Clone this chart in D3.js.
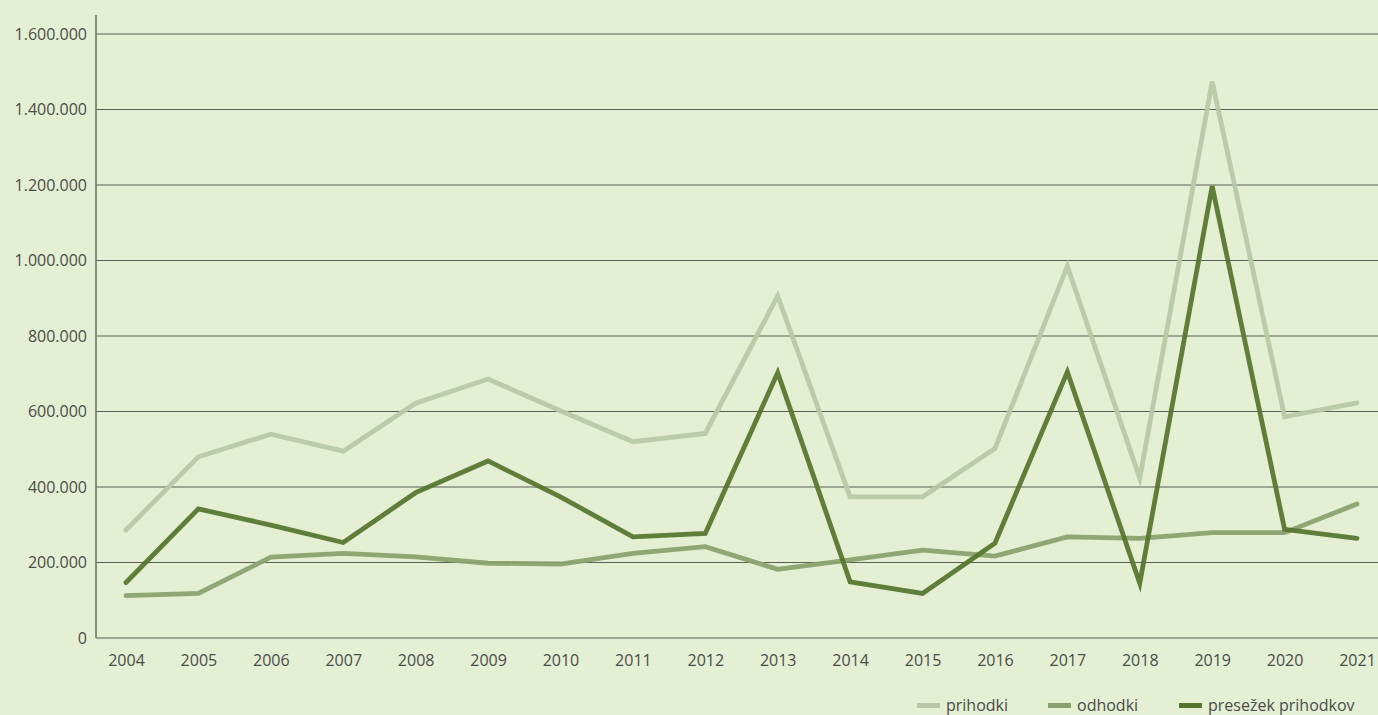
<!DOCTYPE html>
<html>
<head>
<meta charset="utf-8">
<script src="https://cdn.jsdelivr.net/npm/d3@7"></script>
<style>
  body { margin: 0; background: #e4efd4; }
  svg { display: block; font-family: "Open Sans", Lato, sans-serif; }
</style>
</head>
<body>
<div id="chart"></div>
<script>
var years = ["2004","2005","2006","2007","2008","2009","2010","2011","2012","2013","2014","2015","2016","2017","2018","2019","2020","2021"];
var prihodki = [286000, 480000, 540000, 495000, 622000, 686000, 602000, 520000, 542000, 906000, 374000, 374000, 502000, 985000, 423000, 1474000, 586000, 623000];
var odhodki = [112000, 118000, 214000, 224000, 215000, 198000, 196000, 224000, 242000, 182000, 207000, 233000, 217000, 268000, 264000, 279000, 279000, 355000];
var presezek = [147000, 342000, 299000, 253000, 385000, 469000, 374000, 268000, 277000, 703000, 149000, 118000, 251000, 705000, 145000, 1197000, 288000, 264000];
var yTicks = [0, 200000, 400000, 600000, 800000, 1000000, 1200000, 1400000, 1600000];
var seriesNames = ["prihodki", "odhodki", "presežek prihodkov"];

var svgWidth = 1378;
var svgHeight = 715;
var colors = ["#b9c8a7", "#8aa06e", "#55752e"];
var textColor = "#4b4d48";

var svg = d3.select("#chart").append("svg")
  .attr("width", svgWidth)
  .attr("height", svgHeight);

var xScale = d3.scalePoint().domain(years).range([126, 1357]);
var yScale = d3.scaleLinear().domain([0, 1600000]).range([638, 34]);

var fmt = function(v) {
  return d3.format(",")(v).replace(/,/g, ".");
};

// gridlines
svg.append("g").selectAll("line")
  .data(yTicks.slice(1))
  .enter().append("line")
  .attr("x1", 96).attr("x2", svgWidth)
  .attr("y1", d => yScale(d)).attr("y2", d => yScale(d))
  .attr("stroke", "#5a5e55").attr("stroke-width", 1.2);

// y axis labels
var yAxis = d3.axisLeft(yScale).tickValues(yTicks).tickFormat(fmt).tickSize(0).tickPadding(9);
var yG = svg.append("g").attr("transform", "translate(96,0)").call(yAxis);
yG.select(".domain").remove();
yG.selectAll("text").attr("font-size", 16).attr("fill", textColor).attr("font-family", "\"Open Sans\", Lato, sans-serif");

// x axis
var xAxis = d3.axisBottom(xScale).tickSize(0).tickPadding(17);
var xG = svg.append("g").attr("transform", "translate(0,638)").call(xAxis);
xG.select(".domain").remove();
xG.selectAll("text").attr("font-size", 16).attr("fill", textColor).attr("font-family", "\"Open Sans\", Lato, sans-serif");

// axis lines
svg.append("line").attr("x1", 96).attr("x2", svgWidth).attr("y1", 638).attr("y2", 638)
  .attr("stroke", "#5a5e55").attr("stroke-width", 1.2);
svg.append("line").attr("x1", 96).attr("x2", 96).attr("y1", 15).attr("y2", 638)
  .attr("stroke", "#6b6e66").attr("stroke-width", 1.5);

// lines
var line = d3.line()
  .x((d, i) => xScale(years[i]))
  .y(d => yScale(d));

[prihodki, odhodki, presezek].forEach(function(series, i) {
  svg.append("path")
    .datum(series)
    .attr("d", line)
    .attr("fill", "none")
    .attr("stroke", colors[i])
    .attr("stroke-width", 4.8)
    .attr("stroke-linecap", "round")
    .attr("stroke-opacity", 0.93);
});

// legend
var legendX = [917, 1048, 1179];
var legend = svg.append("g");
seriesNames.forEach(function(name, i) {
  legend.append("rect")
    .attr("x", legendX[i]).attr("y", 703)
    .attr("width", 23).attr("height", 5)
    .attr("fill", colors[i]);
  legend.append("text")
    .attr("x", legendX[i] + 29).attr("y", 711)
    .attr("font-size", 16)
    .attr("fill", textColor)
    .text(name);
});
</script>
</body>
</html>
